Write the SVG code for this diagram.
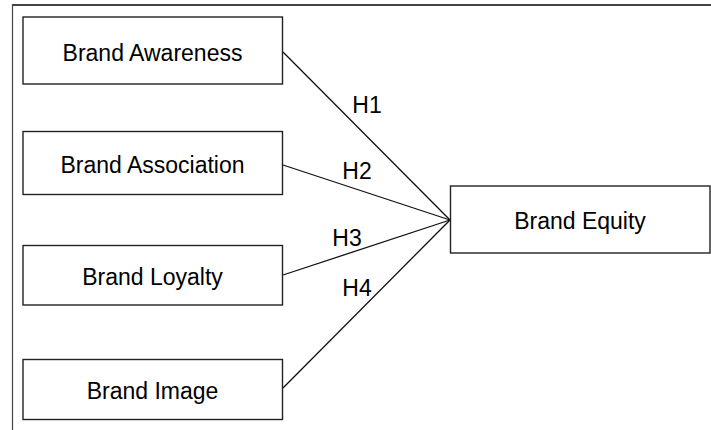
<svg xmlns="http://www.w3.org/2000/svg" width="711" height="430" viewBox="0 0 711 430">
<style>
.box{fill:#fff;stroke:#222;stroke-width:1.4}
.lbl{font-family:"Liberation Sans",Arial,sans-serif;font-size:23px;fill:#000;text-anchor:middle}
.conn{stroke:#111;stroke-width:1.3;fill:none}
.frame{stroke:#444;fill:none}
</style>
<rect width="711" height="430" fill="#fff"/>
<g id="frame">
<line class="frame" x1="12" y1="5" x2="711" y2="5" stroke-width="2"/>
<line class="frame" x1="12.5" y1="4" x2="12.5" y2="430" stroke-width="1.2" stroke="#222"/>
</g>
<g id="connectors">
<line class="conn" x1="283" y1="52" x2="450" y2="220"/>
<line class="conn" x1="283" y1="165" x2="450" y2="220"/>
<line class="conn" x1="283" y1="275" x2="450" y2="220"/>
<line class="conn" x1="283" y1="388" x2="450" y2="220"/>
<text class="lbl" x="367" y="113">H1</text>
<text class="lbl" x="357" y="179">H2</text>
<text class="lbl" x="347" y="245.5">H3</text>
<text class="lbl" x="357" y="295.5">H4</text>
</g>
<g id="awareness">
<rect class="box" x="23" y="17" width="259.5" height="67"/>
<text class="lbl" x="152.5" y="61">Brand Awareness</text>
</g>
<g id="association">
<rect class="box" x="23" y="131.5" width="259.5" height="63"/>
<text class="lbl" x="152.5" y="173">Brand Association</text>
</g>
<g id="loyalty">
<rect class="box" x="23" y="245.5" width="259.5" height="59.5"/>
<text class="lbl" x="152.5" y="285">Brand Loyalty</text>
</g>
<g id="image">
<rect class="box" x="23" y="359.5" width="259.5" height="60"/>
<text class="lbl" x="152.5" y="399">Brand Image</text>
</g>
<g id="equity">
<rect class="box" x="450.5" y="186" width="259.5" height="67"/>
<text class="lbl" x="580" y="229">Brand Equity</text>
</g>
</svg>
